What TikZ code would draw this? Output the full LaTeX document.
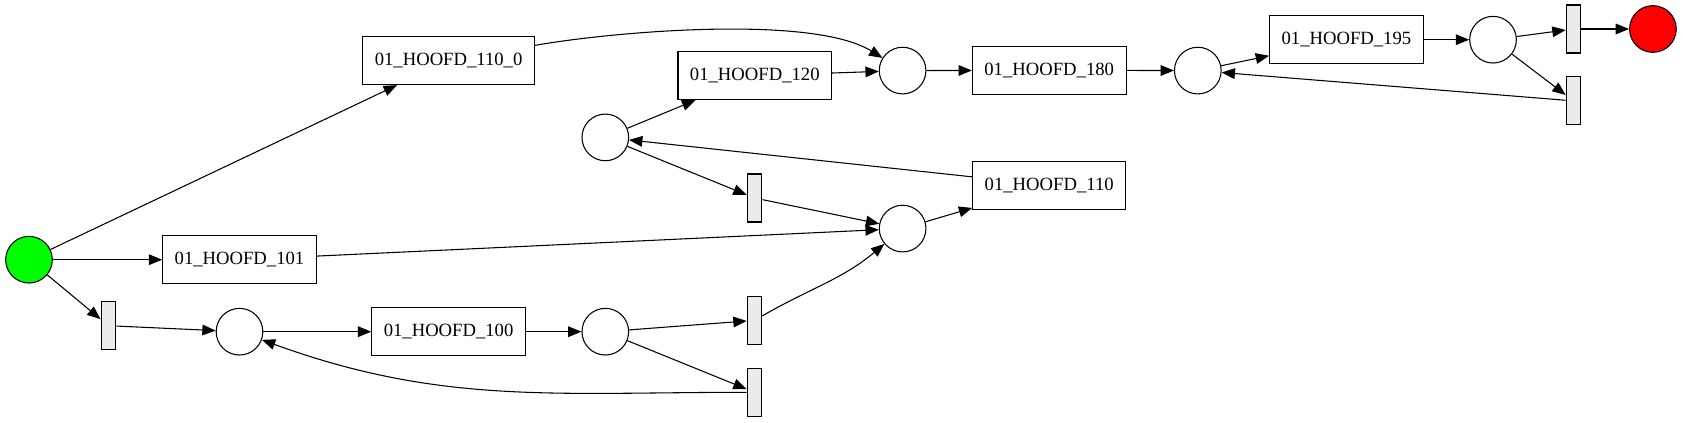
\documentclass[tikz,border=0pt]{standalone}
\usepackage{fontspec}
\setmainfont{Liberation Serif}
\usetikzlibrary{arrows.meta}
\definecolor{startgreen}{RGB}{0,255,0}
\definecolor{endred}{RGB}{255,0,0}
\definecolor{silentgray}{RGB}{235,235,235}

\begin{document}
\begin{tikzpicture}[
  x=0.75pt, y=0.75pt,
  every node/.style={font=\fontsize{14}{16}\selectfont, line width=0.8pt},
  place/.style={draw, circle, minimum size=35pt, inner sep=0pt},
  task/.style={draw, rectangle, minimum height=36pt, inner xsep=9pt},
  silent/.style={draw, rectangle, fill=silentgray, minimum width=11pt,
                 minimum height=36pt, inner sep=0pt},
  arc/.style={->, line width=0.8pt},
  >={Triangle[length=10pt, width=8pt]}
]
\useasboundingbox (0,0) rectangle (1683,423);

\node[place, fill=startgreen] (src) at (29,163.3) {};
\node[silent] (tau1) at (108.4,97.3) {};
\node[place] (p1) at (239.5,91.3) {};
\node[task] (h101) at (239.5,163.3) {01\_HOOFD\_101};
\node[task] (h100) at (448.6,91.3) {01\_HOOFD\_100};
\node[task] (h1100) at (448.6,362.4) {01\_HOOFD\_110\_0};
\node[place] (p2) at (605.3,91.3) {};
\node[place] (p3) at (605.3,285.6) {};
\node[task] (h120) at (754.8,347.3) {01\_HOOFD\_120};
\node[silent] (tau2) at (754.5,225) {};
\node[silent] (tau3) at (754.5,102.6) {};
\node[silent] (tau4) at (754.5,30.7) {};
\node[place] (p4) at (902.6,194.4) {};
\node[place] (p5) at (902.6,352.4) {};
\node[task] (h110) at (1049.2,237.9) {01\_HOOFD\_110};
\node[task] (h180) at (1049.2,352.7) {01\_HOOFD\_180};
\node[place] (p6) at (1197.8,352.4) {};
\node[task] (h195) at (1346.4,383.3) {01\_HOOFD\_195};
\node[place] (p7) at (1493,383.3) {};
\node[silent] (tau5) at (1573.5,394) {};
\node[silent] (tau6) at (1573.5,322.1) {};
\node[place, fill=endred] (sink) at (1652.9,394) {};

\draw[arc] (src) -- (h1100);
\draw[arc] (src) -- (h101);
\draw[arc] (src) -- (tau1);
\draw[arc] (tau1) -- (p1);
\draw[arc] (p1) -- (h100);
\draw[arc] (h100) -- (p2);
\draw[arc] (p2) -- (tau3);
\draw[arc] (p2) -- (tau4);
\draw[arc] (tau4) to[out=180, in=-20] (p1);
\draw[arc] (tau3) to[out=30, in=-140] (p4);
\draw[arc] (h101) -- (p4);
\draw[arc] (p3) -- (h120);
\draw[arc] (p3) -- (tau2);
\draw[arc] (tau2) -- (p4);
\draw[arc] (h120) -- (p5);
\draw[arc] (h1100) to[out=10, in=148, looseness=0.6] (p5);
\draw[arc] (p4) -- (h110);
\draw[arc] (h110) -- (p3);
\draw[arc] (p5) -- (h180);
\draw[arc] (h180) -- (p6);
\draw[arc] (p6) -- (h195);
\draw[arc] (h195) -- (p7);
\draw[arc] (p7) -- (tau5);
\draw[arc] (p7) -- (tau6);
\draw[arc] (tau5) -- (sink);
\draw[arc] (tau6) -- (p6);

\end{tikzpicture}
\end{document}
